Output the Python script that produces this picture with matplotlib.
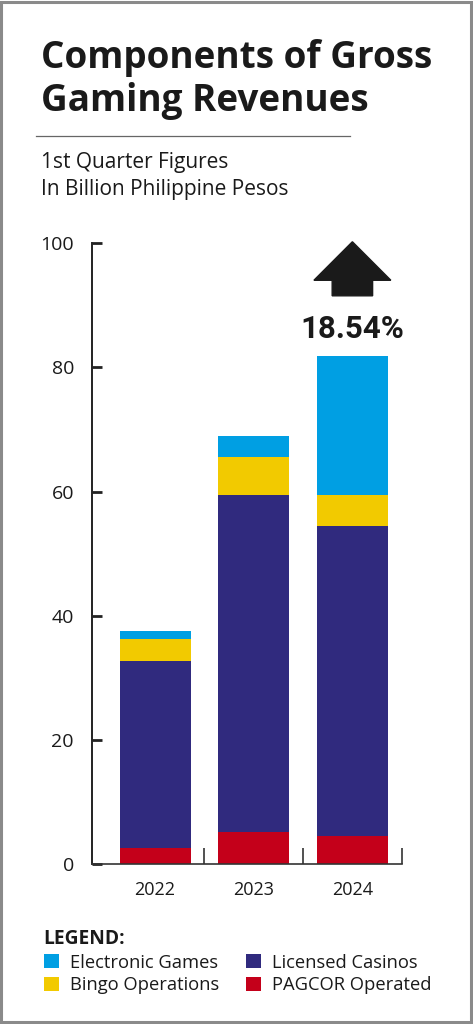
import numpy as np
import matplotlib
matplotlib.use("Agg")
import matplotlib.pyplot as plt
from matplotlib.patches import Rectangle, FancyArrow
from matplotlib.lines import Line2D

plt.rcParams['font.family'] = ['Open Sans', 'DejaVu Sans']

# Data (billion PHP, Q1)
years = ['2022', '2023', '2024']
pagcor = [2.6, 5.2, 4.6]
licensed = [30.2, 54.2, 49.8]
bingo = [3.5, 6.1, 5.0]
electronic = [1.2, 3.4, 22.4]
growth_label = '18.54%'

c_elec = '#009fe3'
c_bingo = '#f2ca00'
c_lic = '#302a7e'
c_pag = '#c4001a'
txt = '#1a1a1a'

W, H = 473, 1024
fig = plt.figure(figsize=(W / 100, H / 100), dpi=100)
fx = lambda px: px / W
fy = lambda py: 1 - py / H

# outer frame
fig.patches.append(Rectangle((0.002, 0.002), 0.994, 0.996, transform=fig.transFigure,
                             fill=False, edgecolor='#8a8a8a', linewidth=2.2))

# titles
fig.text(fx(41), fy(68), 'Components of Gross', fontsize=26.6, fontweight='bold',
         color=txt, va='baseline')
fig.text(fx(41), fy(111), 'Gaming Revenues', fontsize=26.6, fontweight='bold',
         color=txt, va='baseline')
fig.add_artist(Line2D([fx(36), fx(350)], [fy(135.5), fy(135.5)], color='#666666',
                      linewidth=0.9, transform=fig.transFigure))
fig.text(fx(41), fy(168), '1st Quarter Figures', fontsize=15, color=txt, va='baseline')
fig.text(fx(41), fy(195), 'In Billion Philippine Pesos', fontsize=15, color=txt,
         va='baseline')

# chart
ax = fig.add_axes([fx(92), fy(864.3), fx(401.7) - fx(92), fy(243) - fy(864.3)])
x = np.arange(len(years))
w = 0.72
b1 = np.array(pagcor)
b2 = b1 + np.array(licensed)
b3 = b2 + np.array(bingo)
h_pag = ax.bar(x, pagcor, w, color=c_pag, label='PAGCOR Operated')
h_lic = ax.bar(x, licensed, w, bottom=b1, color=c_lic, label='Licensed Casinos')
h_bin = ax.bar(x, bingo, w, bottom=b2, color=c_bingo, label='Bingo Operations')
h_ele = ax.bar(x, electronic, w, bottom=b3, color=c_elec, label='Electronic Games')

ax.set_xlim(-0.64, 2.5)
ax.set_ylim(0, 100)
ax.set_yticks([0, 20, 40, 60, 80, 100])
ax.set_xticks(x)
ax.set_xticklabels(years)
ax.set_xticks([0.5, 1.5, 2.5], minor=True)
for s in ['top', 'right']:
    ax.spines[s].set_visible(False)
ax.spines['left'].set_linewidth(1.4)
ax.spines['bottom'].set_linewidth(1.2)
ax.spines['left'].set_color('#222222')
ax.spines['bottom'].set_color('#333333')
ax.tick_params(axis='y', direction='in', length=7.5, width=2, color='#222222',
               labelsize=14, pad=13, labelcolor=txt)
ax.tick_params(axis='x', which='major', length=0, labelsize=13, pad=12, labelcolor=txt)
ax.tick_params(axis='x', which='minor', direction='in', length=11.5, width=1.2,
               color='#333333')
ax.patch.set_alpha(0)

# growth arrow and label above 2024
ax.add_patch(FancyArrow(2, 91.5, 0, 8.7, width=0.41, head_width=0.78, head_length=6.2,
                        length_includes_head=True, color='#1a1a1a', clip_on=False))
ax.text(2, 84.7, growth_label, ha='center', va='baseline', fontsize=22.5,
        fontweight='bold', color=txt, family=['Roboto', 'DejaVu Sans'])

# legend
fig.text(fx(43), fy(943.5), 'LEGEND:', fontsize=13.8, fontweight='bold', color=txt,
         va='baseline')
leg = fig.legend([h_ele, h_bin, h_lic, h_pag],
                 ['Electronic Games', 'Bingo Operations', 'Licensed Casinos',
                  'PAGCOR Operated'],
                 ncol=2, loc='upper left', bbox_to_anchor=(fx(38), fy(948)),
                 frameon=False, fontsize=13.2, handlelength=0.82, handleheight=0.82,
                 handletextpad=0.6, columnspacing=1.5, labelspacing=0.27,
                 borderaxespad=0, borderpad=0.3)
for t in leg.get_texts():
    t.set_color(txt)

fig.savefig('out.png', dpi=100)
